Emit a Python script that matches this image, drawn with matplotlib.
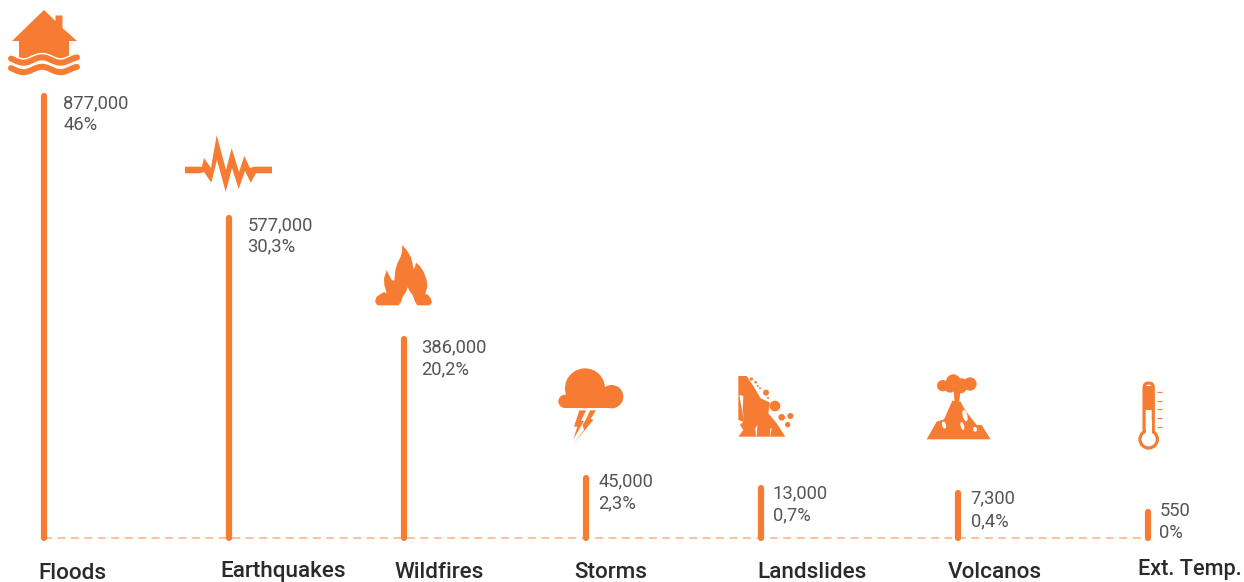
# Natural disasters lollipop-style chart
import numpy as np
import matplotlib
matplotlib.use("Agg")
import matplotlib.pyplot as plt
from matplotlib.patches import Polygon, Circle, Ellipse, FancyBboxPatch

categories = ["Floods", "Earthquakes", "Wildfires", "Storms", "Landslides", "Volcanos", "Ext. Temp."]
counts = ["877,000", "577,000", "386,000", "45,000", "13,000", "7,300", "550"]
shares = ["46%", "30,3%", "20,2%", "2,3%", "0,7%", "0,4%", "0%"]
# bars in the picture are not to scale, so lengths are read off it separately
bar_lengths = [442, 320, 199, 60, 50, 45, 26]

# layout in pixels
bar_x = [44, 228.5, 403.5, 585.5, 760.5, 958, 1147.5]
text_x = [63.5, 247.5, 421.5, 598.5, 772.5, 970.5, 1159.5]
count_y = [103, 225, 347, 481, 493, 498, 511]
share_y = [125, 246, 369, 503, 515, 521, 533]
label_x = [38.5, 220.5, 394.5, 574.5, 757.5, 947.5, 1138.5]
label_base = [579, 577.5, 577.5, 577.5, 577.5, 577.5, 575]
label_size = [16.2, 16.2, 16.2, 16.2, 16.2, 16.2, 15.6]

ORANGE = "#F67C34"
PALE = "#FBB48A"
PX = 0.72  # one pixel in points at dpi 100

plt.rcParams['font.family'] = ['Roboto', 'DejaVu Sans']

fig = plt.figure(figsize=(12.44, 5.82), dpi=100)
ax = fig.add_axes([0, 0, 1, 1])
ax.set_xlim(0, 1244)
ax.set_ylim(-44, 538)   # 0 is the baseline
ax.axis("off")


def up(y):
    # image row to axis value
    return 538 - y


def poly(pts, color=ORANGE, **kw):
    pts = [(x, up(y)) for x, y in pts]
    ax.add_patch(Polygon(pts, closed=True, facecolor=color, edgecolor="none", **kw))


def circ(x, y, r, color=ORANGE):
    ax.add_patch(Circle((x, up(y)), r, facecolor=color, edgecolor="none"))


def zoomed(pts, x0, y0):
    return [(x0 + x / 3, y0 + y / 3) for x, y in pts]


def house():
    poly([(44, 10), (55.5, 21), (55.5, 15.5), (62.5, 15.5), (62.5, 28), (77, 41), (69, 41), (69, 60),
          (19, 60), (19, 41), (12, 41)])
    xs = np.linspace(11, 77, 80)
    for base in (60, 69.5):
        ys = base - 2.7 * np.cos((xs - 42) / 18.5 * np.pi)
        ax.plot(xs, up(ys), color="white", lw=9 * PX, solid_capstyle="butt")
        ax.plot(xs, up(ys), color=ORANGE, lw=6 * PX, solid_capstyle="round")


def seismo():
    poly([(185, 166.7), (202, 166.7), (204, 158), (211, 168), (216.7, 135), (226, 170), (231.7, 148), (239, 172),
          (244.3, 156), (250, 168), (254, 166.7), (272, 166.7),
          (272, 173.3), (256, 173.3), (250.7, 182.7), (245, 171), (238.7, 189), (232, 168), (225.7, 192),
          (217, 160), (211.3, 182.7), (204, 172), (200, 173.3), (185, 173.3)])


def flame():
    pts = [(127, 45), (140, 60), (152, 80), (158, 100), (160, 118), (165, 110), (168, 98), (180, 108),
           (192, 128), (200, 150), (202, 170), (196, 192), (205, 195), (212, 205), (216, 218), (208, 226),
           (172, 226), (165, 215), (158, 195), (150, 185), (143, 172), (137, 188), (128, 200), (124, 215),
           (115, 226), (52, 226), (45, 215), (50, 200), (62, 192), (72, 186), (80, 190), (73, 165),
           (72, 145), (80, 120), (87, 135), (95, 150), (103, 152), (106, 120), (112, 100), (122, 80),
           (126, 65)]
    poly(zoomed(pts, 360, 230))


def cloud():
    for x, y, r in [(675, 475, 60), (755, 500, 35), (615, 514, 20)]:
        circ(360 + x / 3, 230 + y / 3, r / 3)
    poly(zoomed([(615, 534), (615, 495), (760, 495), (760, 534)], 360, 230))
    poly(zoomed([(658, 541), (678, 541), (663, 573), (672, 573), (640, 628), (652, 590), (642, 590)], 360, 230))
    poly(zoomed([(690, 541), (708, 541), (692, 567), (700, 570), (640, 642), (672, 600), (668, 585),
                 (678, 568)], 360, 230))


def landslide():
    pts = [(55, 48), (80, 48), (100, 78), (122, 115), (150, 128), (145, 160), (170, 190), (196, 230),
           (55, 230), (70, 210), (60, 195), (70, 185), (55, 180)]
    poly(zoomed(pts, 720, 360))
    poly(zoomed([(58, 105), (70, 108), (68, 150), (72, 180), (66, 150)], 720, 360), color="white")
    poly(zoomed([(106, 205), (112, 195), (110, 228), (108, 228)], 720, 360), color="white")
    poly(zoomed([(151, 205), (155, 205), (150, 228), (149, 228)], 720, 360), color="white")
    for x, y, r in [(138, 98, 9), (165, 138, 16), (185, 172, 10), (211, 168, 9), (203, 194, 8),
                    (94, 57, 5), (107, 67, 4), (113, 78, 3), (120, 85, 3), (144, 114, 3)]:
        circ(720 + x / 3, 360 + y / 3, r / 3)


def volcano():
    for x, y, r in [(668, 77, 17), (700, 65, 22), (750, 72, 20), (725, 75, 20), (690, 80, 18), (722, 82, 18)]:
        circ(720 + x / 3, 360 + y / 3, r / 3)
    poly(zoomed([(700, 85), (722, 85), (718, 125), (704, 125)], 720, 360))
    poly(zoomed([(697, 122), (722, 125), (735, 150), (770, 195), (785, 195), (812, 238), (620, 238),
                 (650, 185), (672, 178)], 720, 360))
    for x, y, w, h in [(735, 167, 14, 34), (672, 195, 12, 22), (727, 198, 10, 24), (765, 208, 12, 14)]:
        ax.add_patch(Ellipse((720 + x / 3, up(360 + y / 3)), w / 3, h / 3, angle=15, facecolor="white",
                             edgecolor="none"))


def thermometer():
    cx = 1100 + 146 / 3
    ax.add_patch(FancyBboxPatch((cx - 4.6, up(434)), 9.2, 51, boxstyle="round,pad=0,rounding_size=4.6",
                                facecolor="white", edgecolor=ORANGE, lw=3.2 * PX))
    poly([(cx - 4.6, 386), (cx + 4.6, 386), (cx + 4.6, 410), (cx - 4.6, 410)])
    ax.add_patch(Circle((cx, up(439.3)), 8.7, facecolor="white", edgecolor=ORANGE, lw=3.2 * PX))
    poly([(cx - 3.1, 420), (cx + 3.1, 420), (cx + 3.1, 436), (cx - 3.1, 436)], color="white")
    for row in (65, 92, 118, 145, 172):
        y = up(370 + row / 3)
        ax.plot([1157, 1162], [y, y], color=ORANGE, lw=1.2 * PX, solid_capstyle="butt")


# dashed baseline
ax.plot([bar_x[0], bar_x[-1]], [0, 0], color=PALE, lw=1.6 * PX, dashes=(5, 3.4))

# bars
for x, length in zip(bar_x, bar_lengths):
    ax.plot([x, x], [0, length], color=ORANGE, lw=6.2 * PX, solid_capstyle="round")

# numbers and shares
for i in range(len(counts)):
    ax.text(text_x[i], up(count_y[i]), counts[i], color="#555555", fontsize=13.2, fontweight="normal",
            ha="left", va="center")
    ax.text(text_x[i], up(share_y[i]), shares[i], color="#555555", fontsize=13.2, fontweight="normal",
            ha="left", va="center")

# category names
for i in range(len(categories)):
    ax.text(label_x[i], up(label_base[i]), categories[i], color="#2a2a2a", fontsize=label_size[i],
            fontweight="medium", ha="left", va="baseline")

house()
seismo()
flame()
cloud()
landslide()
volcano()
thermometer()

fig.savefig("out.png", dpi=100, facecolor="white")
